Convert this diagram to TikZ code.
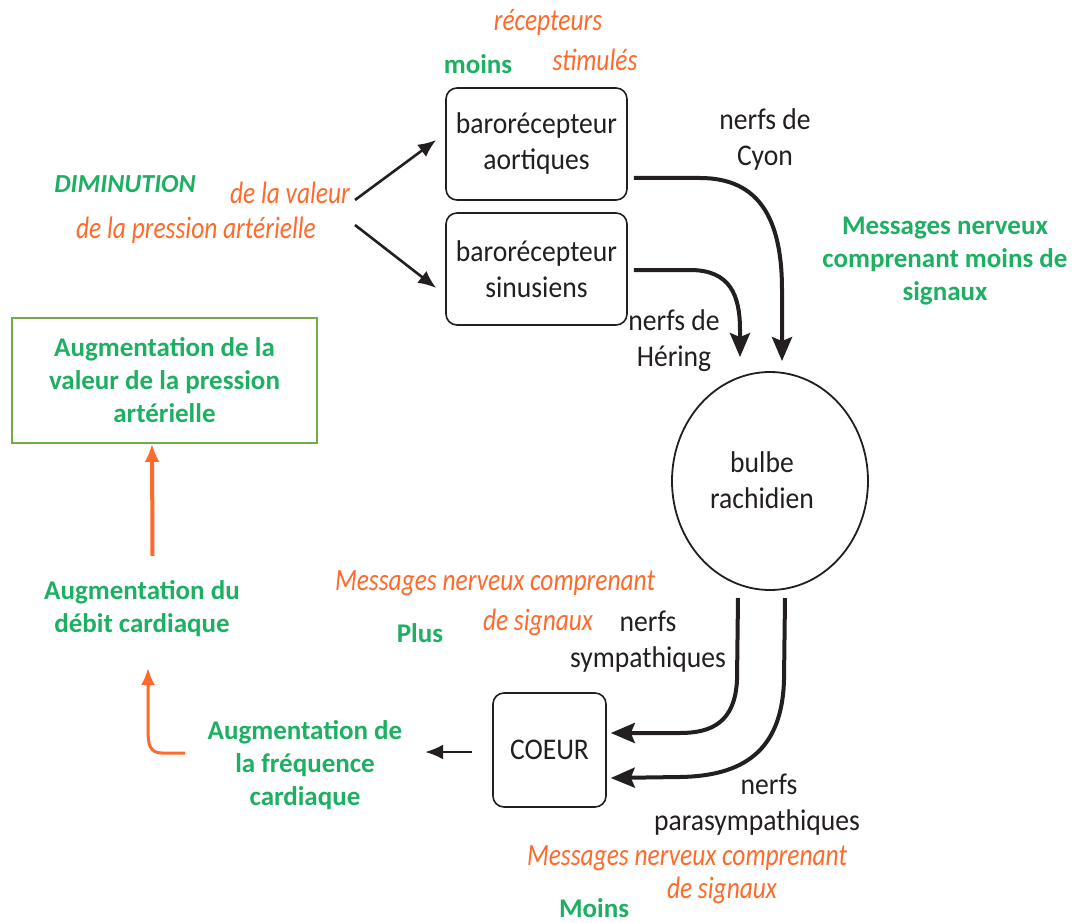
\documentclass[tikz,border=0pt]{standalone}
\usepackage{fontspec}
\setmainfont{Carlito}
\newfontfamily\orfont[FakeStretch=0.82]{Carlito}
\newfontfamily\bkfont[FakeStretch=0.92]{Carlito}
\usetikzlibrary{arrows.meta,shapes.geometric,calc}
\definecolor{grn}{HTML}{1DB063}
\definecolor{org}{HTML}{FF6A2B}
\definecolor{bxg}{HTML}{70AD47}
\definecolor{ink}{HTML}{231F20}
\begin{document}
\begin{tikzpicture}[x=1pt,y=-1pt,
  gtxt/.style={text=grn,font=\fontsize{27}{33}\selectfont\bfseries,align=center,inner sep=0pt},
  otxt/.style={text=org,font=\orfont\itshape\fontsize{31}{37}\selectfont,align=center,inner sep=0pt},
  btxt/.style={text=ink,font=\bkfont\fontsize{30}{36}\selectfont,align=center,inner sep=0pt},
  rbox/.style={draw=ink,line width=1.6pt,rounded corners=11pt,inner sep=0pt},
  thk/.style={draw=ink,line width=4pt,-{Stealth[length=24pt,width=20pt,inset=4pt]}},
  thn/.style={draw=ink,line width=2.6pt,-{Latex[length=18pt,width=15pt]}},
  oarr/.style={draw=org,line width=4pt,-{Latex[length=18pt,width=15pt]}}
]
\useasboundingbox (0,0) rectangle (1077,923);
\fill[white] (0,0) rectangle (1077,923);

% top labels
\node[otxt] (recep) at (548,22) {récepteurs};
\node[otxt] (stim) at (595,60) {stimulés};
\node[gtxt] (moins1) at (478,64) {moins};

% diminution label
\node[gtxt,font=\fontsize{26}{30}\selectfont\bfseries\itshape] (dimi) at (125,184) {DIMINUTION};
\node[otxt] (valeur) at (290,193) {de la valeur};
\node[otxt] (press) at (196,230) {de la pression artérielle};
\coordinate (s1) at (355,200);
\coordinate (s2) at (355,225);

% baroreceptor boxes
\node[rbox,minimum width=181pt,minimum height=112pt] (aor) at (536.5,144) {};
\node[btxt] at (aor.center) {barorécepteur\\aortiques};
\node[rbox,minimum width=181pt,minimum height=112pt] (sin) at (536.5,269) {};
\node[btxt] at (sin.center) {barorécepteur\\sinusiens};

\draw[thn] (s1) -- ($(aor.west)+(-9,-4)$);
\draw[thn] (s2) -- ($(sin.west)+(-9,19)$);

% nerve labels
\node[btxt] (cyon) at (765,140) {nerfs de\\Cyon};
\node[btxt] (hering) at (674,341) {nerfs de\\Héring};
\node[gtxt] (msgmoins) at (945,261) {Messages nerveux\\comprenant moins de\\signaux};

% bulbe
\node[draw=ink,line width=1.8pt,ellipse,minimum width=196pt,minimum height=218pt,inner sep=0pt] (bulbe) at (770,481) {};
\node[btxt] at (762,480) {bulbe\\rachidien};

\coordinate (cyonEnd) at ($(bulbe.north)+(12,-10)$);
\coordinate (herEnd) at ($(bulbe.north)+(-30,-14)$);
\draw[thk] ($(aor.east)+(6,34)$) -- (700,178) .. controls (760,178) and (782,220) .. (782,290) -- (cyonEnd);
\draw[thk] ($(sin.east)+(6,1)$) -- (690,270) .. controls (730,270) and (740,295) .. (740,330) -- (herEnd);

% left green box
\node[draw=bxg,line width=1.6pt,minimum width=305pt,minimum height=125pt,inner sep=0pt] (augpa) at (164.5,380.5) {};
\node[gtxt] at (augpa.center) {Augmentation de la\\valeur de la pression\\artérielle};

\node[gtxt] (debit) at (142,609) {Augmentation du\\débit cardiaque};
\node[gtxt] (freq) at (305,765) {Augmentation de\\la fréquence\\cardiaque};

\draw[oarr] ($(augpa.south)+(-12,112)$) -- (augpa.south -| 152,443);
\draw[org,line width=3pt,-{Latex[length=17pt,width=14pt]}] (185,753) -- (162,753) .. controls (150,753) and (148,745) .. (148,730) -- (148,668);

% coeur
\node[rbox,minimum width=113pt,minimum height=114pt] (coeur) at (549.5,750) {};
\node[btxt] at (coeur.center) {COEUR};
\draw[thn,line width=2.8pt] ($(coeur.west)+(-20,2)$) -- (425,752);

\coordinate (sy0) at (738,598);
\coordinate (pa0) at (785,598);
\draw[thk] (sy0) -- (737,680) .. controls (735,722) and (712,733) .. (680,733) -- ($(coeur.east)+(4,-17)$);
\draw[thk] (pa0) -- (784,680) .. controls (782,752) and (742,776) .. (680,777) -- ($(coeur.east)+(4,28)$);

\node[btxt] (symp) at (648,642) {nerfs\\sympathiques};
\node[btxt] (para) at (757,805) {\hspace*{24pt}nerfs\\parasympathiques};

% lower labels
\node[otxt] (mplus1) at (495,583) {Messages nerveux comprenant};
\node[otxt] (mplus2) at (538,622) {de signaux};
\node[gtxt] (plus) at (420,633) {Plus};
\node[otxt] (mm1) at (687,858) {Messages nerveux comprenant};
\node[otxt] (mm2) at (722,890) {de signaux};
\node[gtxt] (moins2) at (594,908) {Moins};
\end{tikzpicture}
\end{document}
